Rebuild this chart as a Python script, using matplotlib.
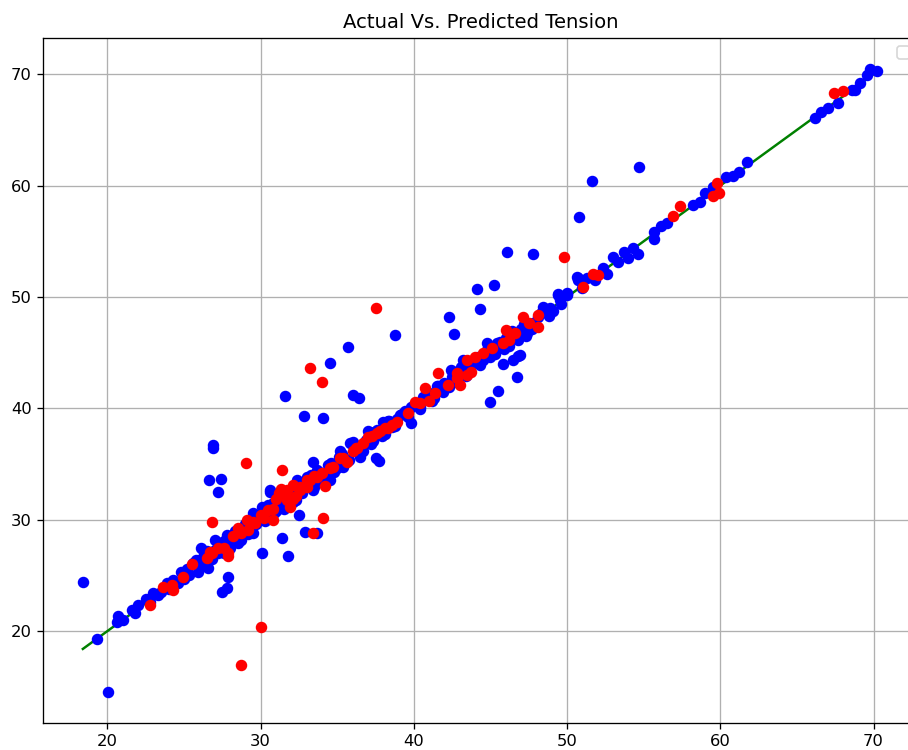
import matplotlib
matplotlib.use('Agg')
import matplotlib.pyplot as plt

# train (blue): actual vs predicted
train_actual = [
    18.4, 20.05, 19.3,
    20.7, 20.65, 21.0, 21.6, 21.8, 22.5, 23.3, 23.5, 24.6, 25.0, 25.9, 26.3, 26.6,
    27.2, 28.0, 28.7, 29.5, 29.8, 30.2, 30.8, 31.3, 31.9, 32.6, 33.05, 30.6, 30.2,
    31.4, 31.8, 30.1, 26.9, 26.9, 26.65, 27.4, 27.2, 27.5, 27.8, 27.9, 31.6, 32.8,
    34.1, 36.0, 36.4, 33.4, 32.5, 32.9, 33.7, 37.7, 37.5, 34.5, 35.7, 38.8, 44.1,
    45.2, 42.3, 42.6, 44.3, 45.8, 46.7, 45.5, 45.0, 46.5, 46.8, 46.1, 47.8, 51.6,
    54.7, 50.8,
    26.1, 27.0, 28.2, 29.5, 30.1, 30.6, 31.4, 32.4, 33.4, 33.4, 34.1, 34.5, 35.4,
    35.85, 36.5, 37.15, 38.0, 37.35, 28.5, 27.6,
    32.6, 33.7, 35.2, 36.0, 37.0, 38.3, 39.1, 39.8, 40.6, 41.7, 42.6, 43.2, 44.1,
    44.8, 45.6, 46.5, 47.6, 48.6, 49.4, 50.0, 50.7, 46.9,
    39.8, 40.4, 41.6, 42.4, 43.2, 44.2, 44.8, 45.6, 46.5, 46.8, 47.4, 47.8, 48.4,
    49.4, 50.0, 50.7, 51.3,
    49.55, 50.0, 50.66, 52.35, 53.0, 53.3, 53.7, 54.0, 54.3, 54.6, 55.7, 55.7, 56.1,
    56.5, 58.2, 58.7, 59.0, 59.5, 60.4, 60.8, 61.2, 61.75, 66.2, 66.6, 67.0, 67.7,
    68.6, 68.8, 69.1, 69.6, 69.8, 70.2,
    24.0, 24.3, 25.3, 25.6, 26.0, 26.8, 27.4, 27.8, 28.3, 28.9, 29.2, 29.7, 30.4,
    30.9, 31.1, 31.6, 32.0, 32.3, 32.8, 33.3, 33.9, 34.4, 34.8, 35.1, 35.6, 36.2,
    36.7, 37.4, 37.9, 38.6, 38.9, 39.4, 40.2, 41.0, 41.3, 42.0, 42.3, 42.9, 43.6,
    43.9, 44.5, 45.1, 45.3, 46.0, 46.2, 47.0, 47.3, 48.1, 48.9, 49.1,
    22.0, 22.8, 23.0, 23.9, 24.8, 25.2, 25.8, 26.2, 26.5, 27.0, 27.6, 28.1, 28.4,
    28.6, 29.0, 29.4, 29.9, 30.3, 30.5, 31.0, 31.2, 31.5, 31.8, 32.1, 32.4, 32.7,
    33.0, 33.5, 33.8, 34.2, 34.6, 35.0, 35.3, 35.8, 36.1, 36.4, 36.9, 37.2, 37.6,
    38.1, 38.4, 38.8, 39.2, 39.6, 40.0, 40.4, 40.8, 41.2, 41.5, 41.9, 42.5, 42.8,
    43.1, 43.4, 43.8, 44.3, 44.7, 45.0, 45.4, 45.9, 46.4, 46.7, 47.2, 47.7, 48.3,
    48.8, 49.6, 51.0, 51.8, 52.6,
]
train_pred = [
    24.4, 14.5, 19.3,
    21.4, 20.8, 21.0, 21.9, 21.6, 22.9, 23.2, 23.5, 24.3, 24.7, 25.3, 27.0, 25.7,
    27.0, 27.5, 28.2, 28.8, 30.4, 30.6, 31.5, 32.0, 32.65, 32.9, 33.8, 32.5, 31.0,
    28.4, 26.7, 27.0, 36.7, 36.4, 33.6, 33.7, 32.5, 23.5, 23.9, 24.9, 41.1, 39.3,
    39.1, 41.2, 40.9, 35.2, 30.4, 28.9, 28.8, 35.3, 35.5, 44.1, 45.5, 46.6, 50.7,
    51.1, 48.2, 46.7, 48.9, 44.0, 42.8, 41.6, 40.6, 44.3, 44.7, 54.0, 53.9, 60.4,
    61.7, 57.2,
    27.5, 28.2, 28.4, 30.6, 31.1, 32.7, 31.5, 33.55, 33.3, 32.7, 34.0, 33.55, 34.7,
    36.9, 35.6, 37.4, 38.8, 37.1, 27.9, 27.0,
    32.7, 34.45, 36.2, 37.0, 38.0, 38.9, 39.4, 40.1, 41.0, 41.9, 43.25, 43.7, 44.5,
    45.2, 45.7, 46.6, 47.6, 48.8, 50.2, 50.4, 51.5, 44.8,
    38.7, 40.1, 42.0, 43.4, 44.3, 44.6, 45.9, 46.0, 46.8, 46.1, 46.75, 47.7, 49.1,
    50.3, 50.2, 51.7, 51.7,
    49.7, 50.3, 51.8, 52.6, 53.6, 53.1, 54.0, 53.5, 54.4, 53.9, 55.8, 55.2, 56.4,
    56.6, 58.25, 58.5, 59.3, 59.9, 60.75, 60.9, 61.2, 62.1, 66.1, 66.6, 67.0, 67.4,
    68.6, 68.6, 69.2, 69.9, 70.5, 70.3,
    23.8, 24.6, 25.0, 26.1, 26.4, 26.5, 27.9, 28.6, 29.0, 29.3, 28.7, 29.6, 30.1,
    30.6, 31.9, 31.3, 32.2, 31.8, 33.2, 34.0, 33.5, 34.9, 34.3, 35.6, 35.2, 36.5,
    36.2, 37.9, 37.5, 38.3, 39.0, 39.8, 40.5, 41.4, 40.9, 42.3, 41.9, 43.0, 43.4,
    44.1, 44.3, 45.5, 44.9, 46.3, 45.6, 47.1, 46.5, 48.2, 49.0, 48.7,
    22.3, 22.6, 23.4, 24.3, 25.3, 25.6, 26.4, 25.9, 27.2, 27.3, 28.1, 27.8, 28.9,
    28.3, 29.6, 29.1, 30.3, 29.9, 31.3, 30.8, 31.6, 31.0, 32.3, 31.6, 32.9, 32.4,
    33.4, 32.9, 34.3, 33.8, 35.1, 34.6, 35.9, 35.4, 36.7, 36.0, 37.2, 36.8, 38.1,
    37.7, 38.9, 38.4, 39.5, 39.2, 40.3, 39.9, 41.2, 40.7, 42.0, 41.5, 42.8, 42.4,
    43.7, 42.9, 44.2, 43.9, 45.1, 44.6, 45.9, 45.3, 46.9, 46.2, 47.6, 47.1, 48.6,
    48.3, 49.4, 50.8, 51.5, 52.1,
]

# test (red)
test_actual = [
    26.85, 29.07, 31.4, 34.2, 34.1, 33.4, 34.0, 33.2, 37.5, 49.8, 30.0, 28.7, 33.2,
    22.75, 23.6, 24.2, 24.3, 24.95, 25.5, 26.5, 26.8, 27.2, 27.9, 28.5, 29.1, 30.0,
    30.8, 31.7, 32.6, 31.3, 32.1, 33.0,
    26.7, 27.6, 28.7, 29.2, 30.2, 30.8, 31.2, 31.7, 32.1, 32.6, 31.9, 33.0, 33.7,
    34.55, 35.2, 35.65, 36.3, 36.7, 37.6, 38.3, 29.65, 27.9,
    34.7, 35.4, 36.2, 37.0, 37.8, 38.1, 38.9, 39.6, 40.1, 40.7, 41.4, 42.2, 42.8,
    43.0, 43.5, 43.5, 44.5, 45.1, 46.0, 46.2, 47.1, 47.5, 48.1, 48.1, 41.6,
    42.8, 43.7, 45.8,
    51.05, 51.7, 52.0, 56.9, 57.4, 59.8, 59.5, 59.9, 67.4, 68.0,
    28.2, 29.5, 30.5, 31.0, 31.5, 32.3, 33.5, 34.0, 36.0, 37.3, 38.6, 40.4, 41.0,
    44.0, 46.6,
]
test_pred = [
    29.8, 35.1, 34.5, 33.0, 30.2, 28.8, 42.4, 43.6, 49.0, 53.6, 20.4, 17.0, 33.6,
    22.3, 24.0, 24.1, 23.7, 24.85, 26.0, 26.6, 27.0, 27.45, 26.7, 29.25, 30.0, 30.4,
    31.0, 31.75, 32.65, 32.8, 33.1, 32.9,
    27.1, 27.45, 28.8, 29.1, 30.2, 29.95, 32.4, 32.7, 31.9, 32.9, 31.1, 33.55, 33.8,
    34.6, 35.5, 35.2, 36.4, 36.9, 37.8, 38.2, 29.7, 27.0,
    34.7, 35.5, 36.4, 37.4, 38.0, 38.2, 38.8, 39.6, 40.6, 41.8, 41.4, 42.1, 42.7,
    42.1, 43.0, 44.3, 44.95, 45.4, 47.0, 46.1, 48.2, 47.7, 48.4, 47.3, 43.2,
    43.2, 43.25, 45.9,
    50.9, 52.1, 51.95, 57.3, 58.2, 60.2, 59.05, 59.3, 68.3, 68.5,
    28.5, 29.8, 30.9, 31.9, 32.3, 32.1, 33.9, 34.2, 36.2, 37.5, 38.5, 40.5, 40.7,
    44.6, 46.8,
]

# ideal line y = x over the range of actual values
line_x = [18.4, 70.3]

DPI = 118
fig = plt.figure(figsize=(908 / DPI, 750 / DPI), dpi=DPI)
# axes runs past the right edge, like the cropped reference
ax = fig.add_axes([43 / 908, 27 / 750, 875 / 908, 685 / 750])
ax.set_axisbelow(True)

ax.plot(line_x, line_x, color='green', lw=1.5, zorder=1.6)
ax.scatter(train_actual, train_pred, color='blue', s=36, zorder=2)
ax.scatter(test_actual, test_pred, color='red', s=36, zorder=2.1)

ax.set_xlim(15.8, 72.9)
ax.set_ylim(11.75, 73.25)
ax.set_xticks([20, 30, 40, 50, 60, 70])
ax.set_yticks([20, 30, 40, 50, 60, 70])
ax.grid(True)
ax.set_title('Actual Vs. Predicted Tension')
ax.legend(handles=[], loc='upper right')

fig.savefig('out.png', dpi=DPI)
